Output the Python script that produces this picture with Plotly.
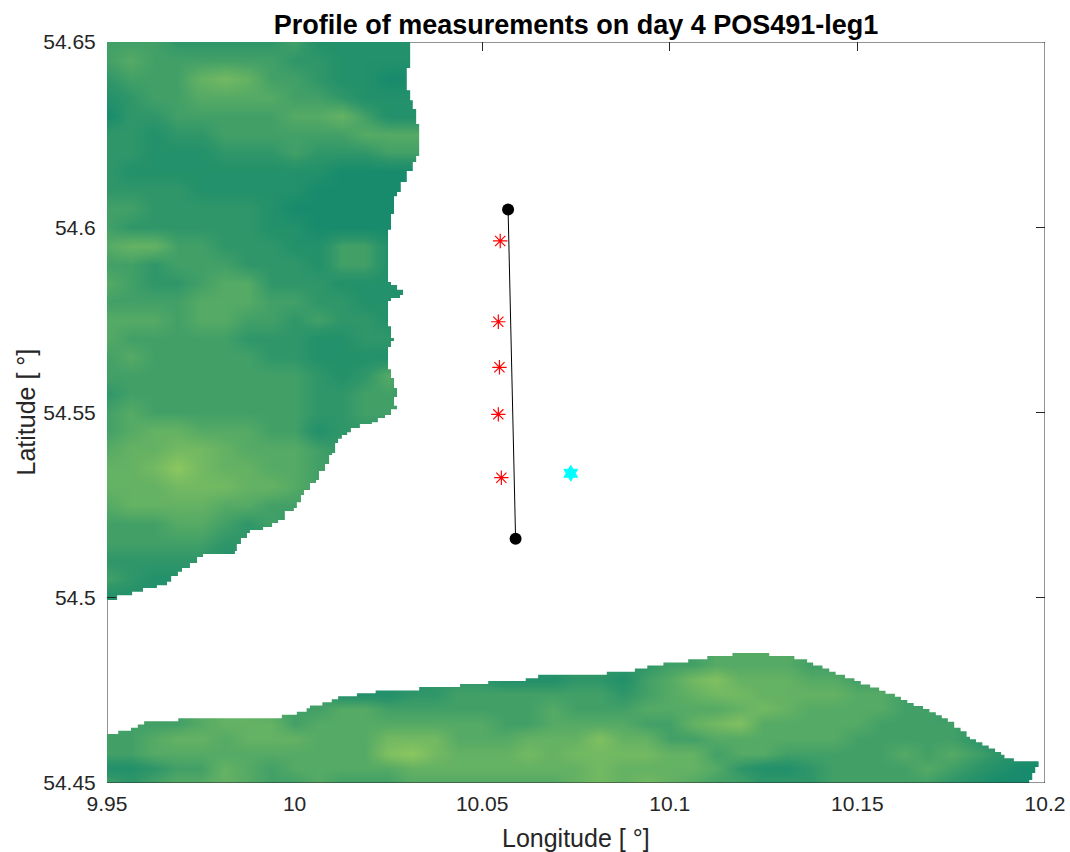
import plotly.graph_objects as go

title = "Profile of measurements on day 4 POS491-leg1"
x_title = "Longitude [ °]"
y_title = "Latitude [ °]"
x_ticks = [9.95, 10, 10.05, 10.1, 10.15, 10.2]
x_labels = ["9.95", "10", "10.05", "10.1", "10.15", "10.2"]
y_ticks = [54.45, 54.5, 54.55, 54.6, 54.65]
y_labels = ["54.45", "54.5", "54.55", "54.6", "54.65"]

track_lon = [10.0569, 10.0589]
track_lat = [54.6048, 54.5159]
sample_lon = [10.0548, 10.0543, 10.0546, 10.0543, 10.0551]
sample_lat = [54.5963, 54.5745, 54.5622, 54.5495, 54.5324]
station_lon = [10.0736]
station_lat = [54.5336]

# Elevation shade, north land: rows from 54.65 southwards every 0.005 deg, columns from 9.95 eastwards every 0.00625 deg
north_z = [
    [3,3,3,2,2,2,2,2,3,1,1,1,1,1],
    [3,4,3,3,3,3,3,3,2,2,1,1,1,1],
    [2,3,3,3,5,6,5,3,3,2,1,1,0,0],
    [1,2,3,3,4,4,4,4,3,3,2,1,1,1],
    [0,2,2,3,3,3,3,3,4,4,5,3,1,1],
    [2,2,1,2,2,3,3,3,3,3,3,4,4,4],
    [2,2,1,1,1,2,2,2,3,2,2,2,3,3],
    [2,1,1,1,1,1,1,1,1,1,0,0,0,0],
    [2,2,2,2,1,1,1,1,1,0,0,0,0,0],
    [3,3,2,2,2,2,2,1,0,0,0,0,0,0],
    [3,2,2,2,2,2,2,1,1,0,0,0,0,0],
    [4,5,5,3,3,2,2,2,1,1,3,3,1,1],
    [3,3,2,3,3,3,2,2,2,1,3,3,1,1],
    [4,3,2,2,3,4,4,2,2,2,1,1,1,1],
    [3,3,3,3,4,4,4,3,3,2,2,1,1,1],
    [4,4,4,3,4,4,3,3,2,3,2,2,1,1],
    [4,3,3,3,3,3,2,2,2,1,1,2,2,1],
    [3,4,3,3,3,3,3,2,2,1,1,1,1,1],
    [3,3,3,3,3,3,3,3,3,2,1,2,4,2],
    [2,3,3,3,3,3,3,3,3,2,2,3,3,2],
    [3,4,3,3,3,3,3,3,3,2,2,3,3,3],
    [3,4,5,5,4,4,4,3,3,1,2,2,2,2],
    [4,5,5,6,6,5,4,4,4,3,2,1,1,1],
    [5,5,6,8,6,5,5,4,4,3,3,1,1,1],
    [5,5,5,6,6,6,5,5,4,3,2,2,2,2],
    [4,5,5,5,5,4,4,3,3,3,3,3,3,3],
    [3,3,3,4,4,3,2,3,2,2,2,2,2,2],
    [3,3,3,3,3,2,2,1,1,1,1,1,1,1],
    [2,2,2,2,2,1,1,1,1,1,1,1,1,1],
    [3,2,1,1,0,0,0,0,0,0,0,0,0,0],
    [1,1,1,1,1,1,1,1,1,1,1,1,1,1],
]

# Elevation shade, south land: rows from 54.45 northwards every 0.004 deg, columns from 9.95 eastwards every 0.00625 deg
south_z = [
    [3,2,3,4,4,5,4,3,3,4,3,3,3,4,4,4,4,4,4,4,5,6,5,6,5,4,3,3,2,2,2,3,3,3,3,3,2,1,0,0,0],
    [1,1,2,3,3,5,4,3,4,4,4,4,4,5,5,5,5,5,5,5,5,6,5,5,5,5,4,2,1,1,2,3,3,3,3,4,3,2,1,0,0],
    [3,3,4,4,4,4,4,4,4,4,4,4,7,8,6,5,5,5,6,5,6,6,6,6,5,5,3,4,4,3,3,3,3,3,4,3,4,3,2,1,1],
    [3,3,4,5,5,4,5,5,5,4,4,4,6,6,6,4,4,4,5,5,5,7,5,5,3,3,4,4,4,4,4,4,3,3,3,3,3,2,1,1,1],
    [3,3,3,3,4,5,5,5,3,4,4,4,4,4,4,4,4,3,3,4,4,4,4,3,3,5,6,7,4,4,4,4,4,3,3,3,3,2,2,2,2],
    [3,3,3,3,4,5,5,4,3,3,4,4,3,3,3,3,3,3,3,4,3,3,3,4,4,4,4,5,6,5,4,4,4,4,3,3,2,2,2,2,2],
    [3,3,3,3,4,5,5,4,3,3,1,1,1,2,2,3,3,3,3,3,3,3,2,3,4,5,6,6,5,5,5,5,4,4,3,2,2,2,2,2,2],
    [3,3,3,3,4,5,5,4,3,3,1,1,1,1,2,2,2,1,1,1,2,2,1,3,4,6,7,5,5,5,4,4,3,3,3,2,2,2,2,2,2],
    [3,3,3,3,4,5,5,4,3,3,1,1,1,1,2,2,2,1,1,1,2,2,2,2,3,3,4,4,4,4,3,3,3,3,3,2,2,2,2,2,2],
    [3,3,3,3,4,5,5,4,3,3,1,1,1,1,2,2,2,1,1,1,2,2,2,2,3,3,4,4,4,4,3,3,3,3,3,2,2,2,2,2,2],
]

# East coast of the north land: easternmost longitude of each stair step and the latitude where the step ends
north_coast_lon = [10.0308,10.0299,10.0308,10.0315,10.0324,10.0332,10.0324,10.0315,10.0299,10.0283,10.0273,10.0265,10.0257,10.0249,
                   10.0257,10.0273,10.0289,10.0281,10.0257,10.0249,10.0257,10.0265,10.0257,10.0249,10.0257,10.0265,10.0273,10.0265,10.0273,
                   10.0257,10.0241,10.0222,10.0206,10.0174,10.0150,10.0140,10.0126,10.0116,10.0108,10.0100,10.0092,10.0081,10.0065,10.0057,
                   10.0041,10.0025,10.0017,10.0006,9.9998,9.9974,9.9956,9.9940,9.9916,9.9881,9.9873,9.9857,9.9846,9.9841,
                   9.9756,9.9740,9.9721,9.9700,9.9689,9.9671,9.9660,9.9633,9.9596,9.9567,9.9527]
north_coast_lat = [54.6430,54.6370,54.6343,54.6319,54.6279,54.6192,54.6176,54.6152,54.6122,54.6095,54.6084,54.6036,54.5993,54.5852,
                   54.5844,54.5831,54.5817,54.5809,54.5801,54.5733,54.5701,54.5693,54.5677,54.5617,54.5593,54.5566,54.5542,54.5518,54.5509,
                   54.5493,54.5485,54.5474,54.5469,54.5458,54.5447,54.5439,54.5429,54.5418,54.5391,54.5385,54.5361,54.5342,54.5318,54.5310,
                   54.5291,54.5277,54.5258,54.5242,54.5234,54.5210,54.5202,54.5191,54.5183,54.5175,54.5161,54.5145,54.5126,54.5118,
                   54.5110,54.5094,54.5080,54.5070,54.5059,54.5043,54.5034,54.5026,54.5016,54.5007,54.4994]

# North coast of the south land: latitude of each stair step and the longitude where the step ends
south_coast_lat = [54.4632,54.4641,54.4649,54.4658,54.4667,54.4675,54.4684,54.4692,54.4702,54.4709,54.4718,54.4726,54.4734,54.4742,54.4750,
                   54.4759,54.4767,54.4775,54.4783,54.4792,54.4800,54.4809,54.4817,54.4825,54.4834,54.4843,54.4851,54.4843,54.4834,54.4825,
                   54.4817,54.4809,54.4800,54.4792,54.4783,54.4775,54.4766,54.4758,54.4749,54.4741,54.4733,54.4724,54.4716,54.4708,54.4700,
                   54.4691,54.4683,54.4675,54.4665,54.4649,54.4640,54.4625,54.4618,54.4610,54.4601,54.4593,54.4584,54.4576,54.4567,54.4559]
south_coast_lon = [9.9530,9.9564,9.9582,9.9599,9.9690,9.9966,10.0006,10.0032,10.0041,10.0074,10.0099,10.0116,10.0166,10.0216,10.0332,
                   10.0441,10.0516,10.0616,10.0649,10.0832,10.0907,10.0940,10.0983,10.1049,10.1100,10.1167,10.1265,10.1332,10.1366,10.1382,
                   10.1407,10.1425,10.1442,10.1467,10.1492,10.1509,10.1534,10.1558,10.1575,10.1600,10.1616,10.1633,10.1650,10.1675,10.1692,
                   10.1709,10.1725,10.1741,10.1758,10.1775,10.1791,10.1800,10.1816,10.1833,10.1850,10.1867,10.1883,10.1892,10.1917,10.1983]
tip_lon = [10.1983, 10.1974, 10.1966, 10.1958]
tip_lat = [54.4543, 54.4527, 54.4508, 54.4500]

scale = [[0, "#178b6c"], [0.2, "#2f9669"], [0.4, "#55aa65"], [0.6, "#73b962"], [0.8, "#8cc760"], [1, "#98cd5f"]]
INK = "#262626"
FONT = "Liberation Sans"

# sea outline, walked as stairs along the two coasts
sea_x, sea_y = [10.2], [54.65]
prev = 54.65
for lon, lat in zip(north_coast_lon, north_coast_lat):
    sea_x += [lon, lon]
    sea_y += [prev, lat]
    prev = lat
sea_x.append(9.95); sea_y.append(prev)
prev = 9.95
for lon, lat in zip(south_coast_lon, south_coast_lat):
    sea_x += [prev, lon]
    sea_y += [lat, lat]
    prev = lon
for lon, lat in zip(tip_lon, tip_lat):
    sea_x += [lon, lon]
    sea_y += [sea_y[-1], lat]
sea_x += [10.2, 10.2]
sea_y += [54.45, 54.65]

fig = go.Figure()
shared = dict(colorscale=scale, zmin=0, zmax=10, showscale=False, zsmooth="best", hoverinfo="skip")
fig.add_trace(go.Heatmap(z=north_z, x0=9.95, dx=0.00625, y0=54.65, dy=-0.005, **shared))
fig.add_trace(go.Heatmap(z=south_z, x0=9.95, dx=0.00625, y0=54.45, dy=0.004, **shared))
fig.add_trace(go.Scatter(x=sea_x, y=sea_y, mode="lines", fill="toself", fillcolor="white",
                         line=dict(width=0), hoverinfo="skip", showlegend=False))
fig.add_trace(go.Scatter(x=track_lon, y=track_lat, mode="lines+markers", showlegend=False,
                         line=dict(color="black", width=1), marker=dict(color="black", size=12)))
fig.add_trace(go.Scatter(x=sample_lon, y=sample_lat, mode="markers", showlegend=False,
                         marker=dict(symbol="asterisk-open", size=12, color="#ff0000", line=dict(color="#ff0000", width=1.2))))
fig.add_trace(go.Scatter(x=station_lon, y=station_lat, mode="markers", showlegend=False,
                         marker=dict(symbol="hexagram", size=12, color="#00ffff", line=dict(color="#00ffff", width=1))))
# carriers for the overlaid tick-only axes
fig.add_trace(go.Scatter(x=[None], y=[None], xaxis="x2", yaxis="y", showlegend=False))
fig.add_trace(go.Scatter(x=[None], y=[None], xaxis="x", yaxis="y2", showlegend=False))
fig.add_trace(go.Scatter(x=[None], y=[None], xaxis="x", yaxis="y3", showlegend=False))

tick_only = dict(showgrid=False, zeroline=False, showticklabels=False, showline=False, automargin=False,
                 ticks="inside", ticklen=9, tickwidth=1, tickcolor=INK)
xr, yr = [9.95, 10.2], [54.45, 54.65]
fig.update_layout(
    width=1070, height=852, autosize=False,
    margin=dict(l=107, r=25, t=42, b=69),
    paper_bgcolor="white", plot_bgcolor="white", showlegend=False,
    font=dict(family=FONT, color=INK),
    title=dict(text=f"<b>{title}</b>", x=0.5, xref="paper", xanchor="center", y=0.971, yanchor="middle",
               font=dict(family=FONT, size=27, color="black")),
    xaxis=dict(range=xr, tickmode="array", tickvals=x_ticks, ticktext=x_labels, showgrid=False, zeroline=False, automargin=False,
               ticks="outside", ticklen=2, tickcolor="rgba(0,0,0,0)", tickfont=dict(size=21, color=INK)),
    yaxis=dict(range=yr, tickmode="array", tickvals=y_ticks, ticktext=y_labels, showgrid=False, zeroline=False, automargin=False,
               ticks="outside", ticklen=6, tickcolor="rgba(0,0,0,0)", tickfont=dict(size=21, color=INK)),
    xaxis2=dict(range=xr, overlaying="x", side="top", anchor="y", tickmode="array", tickvals=x_ticks[2:5], **tick_only),
    yaxis2=dict(range=yr, overlaying="y", side="right", anchor="x", tickmode="array", tickvals=y_ticks[1:4], **tick_only),
    yaxis3=dict(range=yr, overlaying="y", side="left", anchor="x", tickmode="array", tickvals=y_ticks[1:2], **tick_only),
    annotations=[
        dict(text=x_title, xref="paper", yref="paper", x=0.5, y=0, yshift=-55, showarrow=False, yanchor="middle",
             font=dict(size=25, color=INK)),
        dict(text=y_title, xref="paper", yref="paper", x=0, y=0.5, xshift=-82, showarrow=False, textangle=-90,
             xanchor="center", font=dict(size=25, color=INK)),
    ],
    shapes=[
        dict(type="line", xref="x", yref="y", x0=north_coast_lon[0], x1=10.2, y0=54.65, y1=54.65, line=dict(color=INK, width=1)),
        dict(type="line", xref="x", yref="y", x0=10.2, x1=10.2, y0=54.45, y1=54.65, line=dict(color=INK, width=1)),
        dict(type="line", xref="x", yref="y", x0=9.95, x1=10.2, y0=54.45, y1=54.45, line=dict(color=INK, width=1)),
        dict(type="line", xref="x", yref="y", x0=9.95, x1=9.95, y0=south_coast_lat[0], y1=north_coast_lat[-1], line=dict(color=INK, width=1)),
    ],
)
fig.write_html("out.html", config={"displayModeBar": False}, post_script="document.body.style.margin='0';")
